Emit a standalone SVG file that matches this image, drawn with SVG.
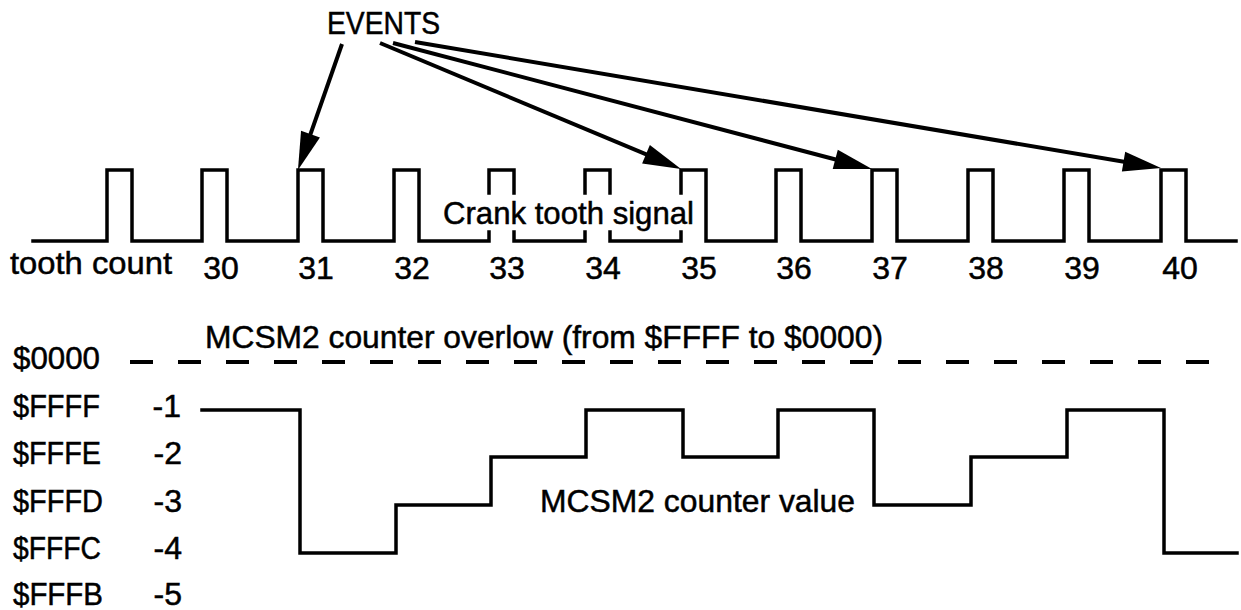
<svg xmlns="http://www.w3.org/2000/svg" width="1241" height="610" viewBox="0 0 1241 610">
<style>
text{font-family:"Liberation Sans",Arial,sans-serif;font-size:32px;fill:#000;stroke:#000;stroke-width:0.5}
.wave{fill:none;stroke:#000;stroke-width:3.5;stroke-linejoin:miter;stroke-linecap:square}
.arrow{fill:none;stroke:#000;stroke-width:4}
.dash{fill:none;stroke:#000;stroke-width:4;stroke-dasharray:23 25}
.num{text-anchor:middle}
.dec{text-anchor:end}
</style>
<defs>
<marker id="ah" markerUnits="userSpaceOnUse" markerWidth="40" markerHeight="22" refX="23" refY="10" orient="auto" overflow="visible">
<path d="M0,0 L38,10 L0,20 Z" fill="#000"/>
</marker>
</defs>
<rect width="1241" height="610" fill="#fff"/>
<g id="events-label"><text x="327" y="34" textLength="113" lengthAdjust="spacingAndGlyphs">EVENTS</text></g>
<g id="crank-signal">
<path class="wave" d="M33,241 H107 V170 H132 V241 H202 V170 H227 V241 H298 V170 H323 V241 H394 V170 H419 V241 H489 V232 M489,193 V170 H514 V193 M514,232 V241 H585 V232 M585,193 V170 H610 V193 M610,232 V241 H681 V232 M681,193 V170 H706 V241 H776 V170 H801 V241 H872 V170 H897 V241 H968 V170 H993 V241 H1064 V170 H1089 V241 H1161 V170 H1186 V241 H1236"/>
<text x="443" y="224" textLength="251" lengthAdjust="spacingAndGlyphs">Crank tooth signal</text>
</g>
<g id="tooth-count">
<text x="10" y="274" textLength="162" lengthAdjust="spacingAndGlyphs">tooth count</text>
<text class="num" x="221" y="279">30</text>
<text class="num" x="316" y="279">31</text>
<text class="num" x="412" y="279">32</text>
<text class="num" x="507" y="279">33</text>
<text class="num" x="603" y="279">34</text>
<text class="num" x="699" y="279">35</text>
<text class="num" x="794" y="279">36</text>
<text class="num" x="890" y="279">37</text>
<text class="num" x="986" y="279">38</text>
<text class="num" x="1082" y="279">39</text>
<text class="num" x="1180" y="279">40</text>
</g>
<g id="connectors">
<line class="arrow" x1="342" y1="44" x2="302.9" y2="155.8" marker-end="url(#ah)"/>
<line class="arrow" x1="380" y1="43" x2="667.2" y2="163.2" marker-end="url(#ah)"/>
<line class="arrow" x1="393" y1="43" x2="857.5" y2="165.2" marker-end="url(#ah)"/>
<line class="arrow" x1="415" y1="42" x2="1146.2" y2="165.5" marker-end="url(#ah)"/>
</g>
<g id="overflow">
<line class="dash" x1="130" y1="362" x2="1210" y2="362"/>
<text x="205" y="348" textLength="678" lengthAdjust="spacingAndGlyphs">MCSM2 counter overlow (from $FFFF to $0000)</text>
</g>
<g id="axis-labels">
<text x="13" y="369" textLength="87" lengthAdjust="spacingAndGlyphs">$0000</text>
<text x="13" y="417" textLength="87" lengthAdjust="spacingAndGlyphs">$FFFF</text>
<text x="13" y="464" textLength="88" lengthAdjust="spacingAndGlyphs">$FFFE</text>
<text x="13" y="512" textLength="90" lengthAdjust="spacingAndGlyphs">$FFFD</text>
<text x="13" y="559" textLength="88" lengthAdjust="spacingAndGlyphs">$FFFC</text>
<text x="13" y="605" textLength="90" lengthAdjust="spacingAndGlyphs">$FFFB</text>
<text class="dec" x="181" y="417">-1</text>
<text class="dec" x="182" y="464">-2</text>
<text class="dec" x="182" y="512">-3</text>
<text class="dec" x="182" y="559">-4</text>
<text class="dec" x="182" y="605">-5</text>
</g>
<g id="counter-value">
<path class="wave" d="M202,410 H300 V553 H396 V505 H491 V457 H586 V410 H683 V457 H778 V410 H874 V505 H971 V457 H1067 V410 H1164 V553 H1237"/>
<text x="540" y="512" textLength="315" lengthAdjust="spacingAndGlyphs">MCSM2 counter value</text>
</g>
</svg>
